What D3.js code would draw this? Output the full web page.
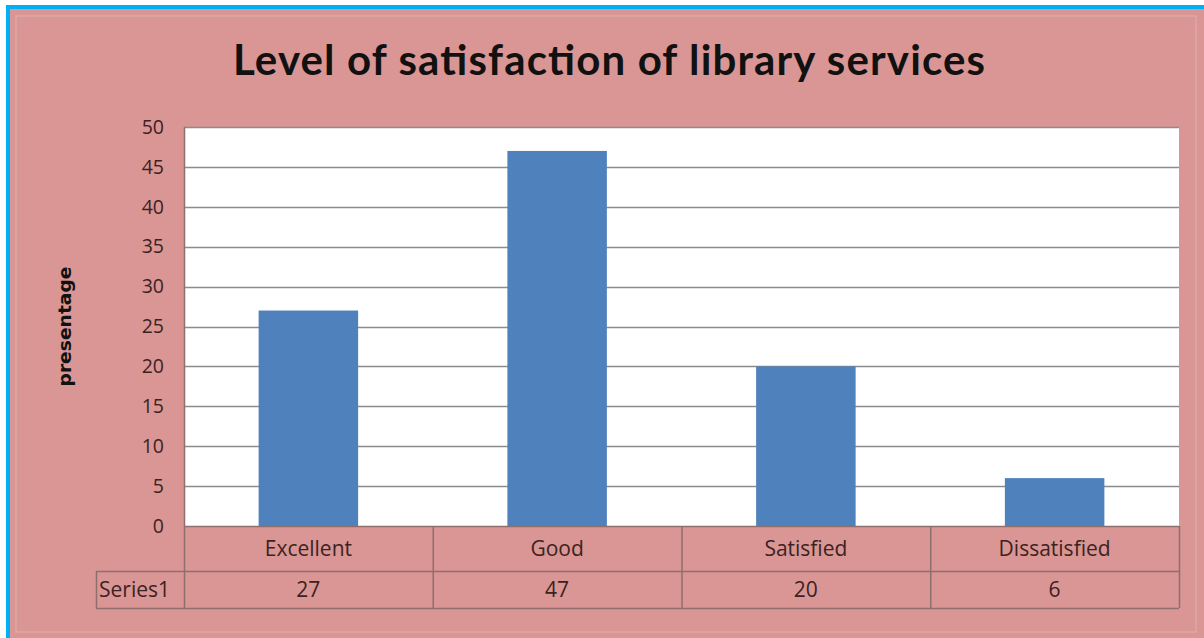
<!DOCTYPE html>
<html>
<head>
<meta charset="utf-8">
<script src="https://cdn.jsdelivr.net/npm/d3@7"></script>
<style>
  html, body { margin: 0; padding: 0; background: #ffffff; }
  svg { display: block; }
</style>
</head>
<body>
<svg id="chart" width="1204" height="638"></svg>
<script>
const title = "Level of satisfaction of library services";
const yAxisTitle = "presentage";
const seriesName = "Series1";
const categories = ["Excellent", "Good", "Satisfied", "Dissatisfied"];
const values = [27, 47, 20, 6];
const yTicks = [0, 5, 10, 15, 20, 25, 30, 35, 40, 45, 50];

const svg = d3.select("#chart");
const W = 1204, H = 638;
const plot = { left: 184, right: 1179, top: 127, bottom: 526 };
const rowH1 = 45, rowH2 = 37;
const tableLeft = 96;
const textColor = "#3d2222";
const lineColor = "#8f6e6e";
const font = "'Open Sans', sans-serif";

svg.append("rect").attr("x", 0).attr("y", 0).attr("width", W).attr("height", H).attr("fill", "#ffffff");
svg.append("rect").attr("x", 6).attr("y", 5).attr("width", W - 6).attr("height", H - 5).attr("fill", "#00b0f0");
svg.append("rect").attr("x", 10).attr("y", 9).attr("width", W - 10).attr("height", H - 9).attr("fill", "#d99694");
svg.append("rect").attr("x", 16).attr("y", 16).attr("width", W - 24).attr("height", H - 22)
  .attr("fill", "none").attr("stroke", "#e0a6a4").attr("stroke-width", 1.5);

const x = d3.scaleBand().domain(categories).range([plot.left, plot.right]).paddingInner(0.6).paddingOuter(0.3);
const xCell = d3.scaleBand().domain(categories).range([plot.left, plot.right]);
const y = d3.scaleLinear().domain([0, 50]).range([plot.bottom, plot.top]);

svg.append("rect").attr("x", plot.left).attr("y", plot.top)
  .attr("width", plot.right - plot.left).attr("height", plot.bottom - plot.top)
  .attr("fill", "#ffffff");

svg.append("g").selectAll("line").data(yTicks.filter(d => d > 0)).join("line")
  .attr("x1", plot.left).attr("x2", plot.right)
  .attr("y1", d => Math.round(y(d)) + 0.5).attr("y2", d => Math.round(y(d)) + 0.5)
  .attr("stroke", "#8c8c8c").attr("stroke-width", 1.5);

svg.append("g").selectAll("rect").data(values).join("rect")
  .attr("x", (d, i) => x(categories[i]))
  .attr("width", x.bandwidth())
  .attr("y", d => y(d))
  .attr("height", d => y(0) - y(d))
  .attr("fill", "#4f81bd");

const yAxis = d3.axisLeft(y).tickValues(yTicks).tickSize(0).tickPadding(20);
const yg = svg.append("g").attr("transform", `translate(${plot.left},0)`).call(yAxis);
yg.select(".domain").remove();
yg.selectAll("text").attr("font-family", font).attr("font-size", 19.5).attr("fill", textColor);

svg.append("text")
  .attr("transform", `translate(71,${(plot.top + plot.bottom) / 2}) rotate(-90)`)
  .attr("text-anchor", "middle")
  .attr("font-family", "'DejaVu Sans Condensed', 'DejaVu Sans', sans-serif")
  .attr("font-weight", "bold").attr("font-size", 18).attr("fill", "#111")
  .attr("textLength", 120).attr("lengthAdjust", "spacingAndGlyphs")
  .text(yAxisTitle);

svg.append("text")
  .attr("x", 609).attr("y", 75)
  .attr("text-anchor", "middle")
  .attr("font-family", "Lato, sans-serif").attr("font-weight", "bold").attr("font-size", 42)
  .attr("fill", "#111")
  .attr("textLength", 752).attr("lengthAdjust", "spacing")
  .text(title);

const t = svg.append("g");
const r1Top = plot.bottom, r1Bot = plot.bottom + rowH1, r2Bot = r1Bot + rowH2;
const vx = [plot.left].concat(categories.map(c => xCell(c) + xCell.bandwidth()));
t.selectAll("line.v").data(vx).join("line").attr("class", "v")
  .attr("x1", d => d + 0.5).attr("x2", d => d + 0.5)
  .attr("y1", (d, i) => i === 0 ? plot.top : r1Top).attr("y2", r2Bot)
  .attr("stroke", lineColor).attr("stroke-width", 1.5);
t.append("line").attr("x1", tableLeft + 0.5).attr("x2", tableLeft + 0.5).attr("y1", r1Bot).attr("y2", r2Bot)
  .attr("stroke", lineColor).attr("stroke-width", 1.5);
t.append("line").attr("x1", plot.left).attr("x2", plot.right).attr("y1", r1Top + 0.5).attr("y2", r1Top + 0.5)
  .attr("stroke", lineColor).attr("stroke-width", 1.5);
[r1Bot, r2Bot].forEach(yy => t.append("line").attr("x1", tableLeft).attr("x2", plot.right)
  .attr("y1", yy + 0.5).attr("y2", yy + 0.5).attr("stroke", lineColor).attr("stroke-width", 1.5));

t.selectAll("text.cat").data(categories).join("text").attr("class", "cat")
  .attr("x", d => xCell(d) + xCell.bandwidth() / 2).attr("y", r1Top + 30)
  .attr("text-anchor", "middle").attr("font-family", font).attr("font-size", 21).attr("fill", textColor)
  .text(d => d);
t.selectAll("text.val").data(values).join("text").attr("class", "val")
  .attr("x", (d, i) => xCell(categories[i]) + xCell.bandwidth() / 2).attr("y", r1Bot + 26)
  .attr("text-anchor", "middle").attr("font-family", font).attr("font-size", 21).attr("fill", textColor)
  .text(d => d);
t.append("text").attr("x", tableLeft + 3).attr("y", r1Bot + 26)
  .attr("font-family", font).attr("font-size", 21).attr("fill", textColor)
  .text(seriesName);
</script>
</body>
</html>
